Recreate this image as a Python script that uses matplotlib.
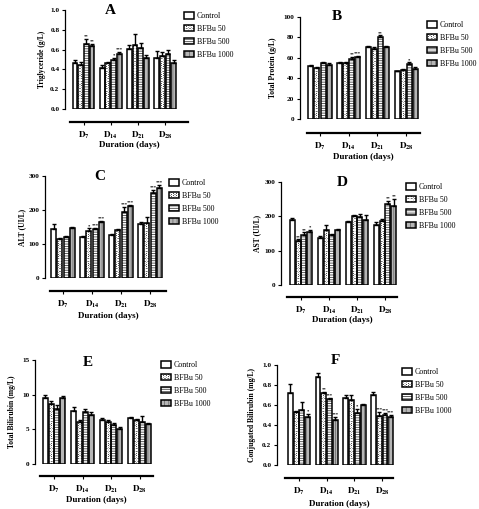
import numpy as np
import matplotlib.pyplot as plt
from matplotlib.patches import Patch

plt.rcParams['font.family'] = ['Liberation Serif', 'DejaVu Serif']
plt.rcParams['mathtext.fontset'] = 'stix'
plt.rcParams['hatch.linewidth'] = 0.6

W, H = 479, 509

days = ['7', '14', '21', '28']
groups = ['Control', 'BFBu 50', 'BFBu 500', 'BFBu 1000']

# rows = Control, BFBu 50, BFBu 500, BFBu 1000 ; columns = D7, D14, D21, D28
tg_mean = [[0.46, 0.41, 0.61, 0.52], [0.44, 0.46, 0.65, 0.54],
           [0.66, 0.50, 0.62, 0.56], [0.64, 0.56, 0.52, 0.46]]
tg_err = [[0.03, 0.03, 0.04, 0.07], [0.03, 0.01, 0.11, 0.04],
          [0.05, 0.02, 0.05, 0.04], [0.02, 0.02, 0.03, 0.03]]
tg_sig = [['', '', '', ''], ['', '', '', ''],
          ['**', '*', '', ''], ['**', '***', '', '']]

tp_mean = [[52, 55, 71, 47], [50, 55, 69, 48], [55, 59, 80, 54], [53, 61, 71, 49]]
tp_err = [[1, 0.5, 0.5, 0.5], [1, 0.5, 2, 1.5], [1, 2, 2, 1.5], [2, 1, 1, 2]]
tp_sig = [['', '', '', ''], ['', '', '', ''],
          ['', '**', '**', '*'], ['', '***', '', '']]

alt_mean = [[145, 122, 127, 160], [115, 138, 140, 163],
            [122, 145, 195, 250], [146, 165, 213, 265]]
alt_err = [[15, 3, 3, 5], [3, 8, 3, 15], [3, 3, 15, 10], [3, 3, 3, 10]]
alt_sig = [['', '', '', ''], ['', '*', '', ''],
           ['', '***', '***', '***'], ['', '***', '***', '***']]

ast_mean = [[188, 138, 183, 175], [128, 160, 200, 187],
            [145, 147, 198, 237], [155, 160, 190, 230]]
ast_err = [[7, 5, 3, 8], [5, 15, 3, 5], [8, 3, 10, 7], [5, 2, 15, 20]]
ast_sig = [['', '', '', ''], ['**', '', '', ''],
           ['**', '', '', '**'], ['*', '', '', '**']]

tb_mean = [[9.5, 7.6, 6.3, 6.7], [8.7, 6.0, 6.1, 6.3],
           [8.0, 7.5, 5.6, 6.0], [9.5, 7.1, 5.0, 5.7]]
tb_err = [[0.4, 0.6, 0.4, 0.1], [0.4, 0.4, 0.3, 0.2],
          [0.5, 0.4, 0.3, 0.9], [0.3, 0.4, 0.3, 0.2]]
tb_sig = [['', '', '', ''] for _ in range(4)]

cb_mean = [[0.72, 0.88, 0.67, 0.70], [0.53, 0.72, 0.65, 0.49],
           [0.55, 0.66, 0.52, 0.50], [0.48, 0.45, 0.60, 0.48]]
cb_err = [[0.09, 0.04, 0.03, 0.03], [0.01, 0.01, 0.05, 0.04],
          [0.08, 0.01, 0.04, 0.02], [0.03, 0.03, 0.01, 0.02]]
cb_sig = [['', '', '', ''], ['', '**', '', '***'],
          ['', '***', '*', '***'], ['*', '***', '', '***']]

# bar styles: (face, hatch colour, hatch)
styles = [('white', 'white', None),
          ('#222222', 'white', 'OOOOO'),
          ('white', '#444444', '-------'),
          ('#b5b5b5', '#707070', '||||')]

fig = plt.figure(figsize=(W / 100, H / 100), dpi=100)


def px(x, y):
    return x / W, 1 - y / H


def panel(letter, ylabel, ymax, yticks, ytl, mean, err, sig, L):
    right = L['line'][1] + 3
    ax = fig.add_axes([L['ax'] / W, 1 - L['y0'] / H,
                       (right - L['ax']) / W, (L['y0'] - L['top']) / H])
    c0, sp = L['c0'], L['sp']
    ax.set_xlim((L['ax'] - c0) / sp, (right - c0) / sp)
    ax.set_ylim(0, ymax)
    slot, bw = 0.21, 0.175
    x = np.arange(4)
    for g in range(4):
        face, hc, hatch = styles[g]
        xs = x + (g - 1.5) * slot
        ax.bar(xs, mean[g], bw, color=face, edgecolor=hc, hatch=hatch, linewidth=0, zorder=2)
        ax.bar(xs, mean[g], bw, color='none', edgecolor='black', linewidth=1.1, zorder=3)
        ax.errorbar(xs, mean[g], yerr=[np.zeros(4), err[g]], fmt='none', ecolor='black',
                    elinewidth=1.0, capsize=1.5, capthick=1.0, zorder=4)
        for i in range(4):
            if sig[g][i]:
                ax.text(xs[i], mean[g][i] + err[g][i] + ymax * 0.004, sig[g][i],
                        ha='center', va='bottom', fontsize=3.4, fontweight='bold')
    for s in ['top', 'right']:
        ax.spines[s].set_visible(False)
    ax.spines['left'].set_linewidth(0.9)
    ax.spines['bottom'].set_linewidth(1.6)
    ax.spines['bottom'].set_position(('outward', (L['ly'] - L['y0']) * 0.72))
    ax.spines['bottom'].set_bounds((L['line'][0] - c0) / sp, (L['line'][1] - c0) / sp)
    ax.set_yticks(yticks)
    ax.set_yticklabels(ytl, fontsize=5.2, fontweight='bold')
    ax.set_xticks(x)
    ax.set_xticklabels([r'$\mathbf{D_{%s}}$' % d for d in days], fontsize=6.5)
    ax.tick_params(axis='both', length=2.5, width=0.8, pad=1.5)
    ax.tick_params(axis='x', pad=3)
    ax.patch.set_alpha(0)
    tx, ty = px(*L['title'])
    fig.text(tx, ty, letter, ha='center', va='center', fontsize=11, fontweight='bold')
    lx, ly = px(L['ylab'], (L['y0'] + L['top']) / 2)
    fig.text(lx, ly, ylabel, rotation=90, ha='center', va='center', fontsize=5.5,
             fontweight='bold')
    dx, dy = px((L['line'][0] + L['line'][1]) / 2, L['dur'])
    fig.text(dx, dy, 'Duration (days)', ha='center', va='center', fontsize=6.5,
             fontweight='bold')
    handles = []
    for face, hc, hatch in styles:
        handles.append((Patch(facecolor=face, edgecolor=hc, hatch=hatch, linewidth=0),
                        Patch(facecolor='none', edgecolor='black', linewidth=1.1)))
    gx, gy = px(*L['leg'])
    fig.legend(handles, groups, loc='upper left', bbox_to_anchor=(gx, gy), frameon=False,
               fontsize=5.7, handlelength=1.2, handleheight=0.9, handletextpad=0.45,
               labelspacing=0.62, borderpad=0, borderaxespad=0)


frac = ['0.0', '0.2', '0.4', '0.6', '0.8', '1.0']

lay_a = dict(ax=65, y0=109, top=10, c0=83.5, sp=27.2, ly=122, line=(70, 188),
             title=(110, 11), ylab=42, dur=145, leg=(184, 12))
lay_b = dict(ax=300, y0=119, top=17, c0=320, sp=28.7, ly=133, line=(307, 420),
             title=(337, 17), ylab=273, dur=157, leg=(427, 21))
lay_c = dict(ax=45, y0=278, top=176, c0=63, sp=29, ly=291, line=(50, 166),
             title=(100, 177), ylab=22, dur=316, leg=(169, 179))
lay_d = dict(ax=281, y0=285, top=182, c0=301, sp=28, ly=297, line=(287, 397),
             title=(342, 183), ylab=257, dur=320, leg=(406, 183))
lay_e = dict(ax=35, y0=464, top=360, c0=54, sp=28.5, ly=476, line=(40, 153),
             title=(88, 363), ylab=12, dur=500, leg=(161, 361))
lay_f = dict(ax=277, y0=465, top=365, c0=299, sp=27.7, ly=478, line=(285, 393),
             title=(335, 360), ylab=252, dur=504, leg=(402, 368))

panel('A', 'Triglyceride (g/L)', 1.0, np.arange(0, 1.01, 0.2), frac,
      tg_mean, tg_err, tg_sig, lay_a)
panel('B', 'Total Protein (g/L)', 100, np.arange(0, 101, 20),
      [str(v) for v in range(0, 101, 20)], tp_mean, tp_err, tp_sig, lay_b)
panel('C', 'ALT (UI/L)', 300, [0, 100, 200, 300], ['0', '100', '200', '300'],
      alt_mean, alt_err, alt_sig, lay_c)
panel('D', 'AST (UI/L)', 300, [0, 100, 200, 300], ['0', '100', '200', '300'],
      ast_mean, ast_err, ast_sig, lay_d)
panel('E', 'Total Bilirubin (mg/L)', 15, [0, 5, 10, 15], ['0', '5', '10', '15'],
      tb_mean, tb_err, tb_sig, lay_e)
panel('F', 'Conjugated Bilirubin (mg/L)', 1.0, np.arange(0, 1.01, 0.2), frac,
      cb_mean, cb_err, cb_sig, lay_f)

fig.savefig('out.png', dpi=100)
